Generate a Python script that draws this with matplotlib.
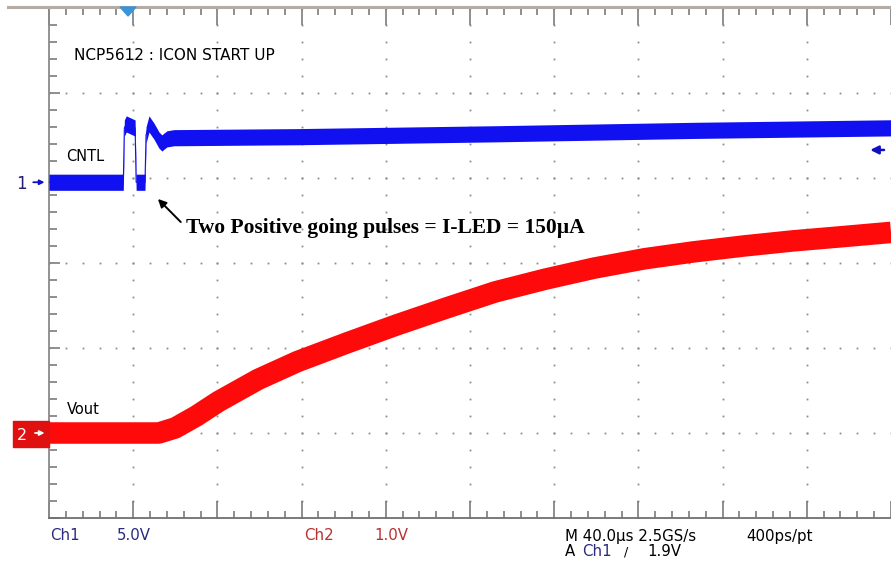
import numpy as np
import matplotlib
matplotlib.use("Agg")
import matplotlib.pyplot as plt
from matplotlib.patches import Rectangle, Polygon
from matplotlib.lines import Line2D

# scope settings
us_per_div = 40.0
ch1_volts_per_div = 5.0
ch2_volts_per_div = 1.0
ch1_offset_div = 3.95
ch2_offset_div = 1.0
trigger_t = 37.2
trigger_level = 1.9

# CNTL (ch1), time in us, volts
cntl_t = [0, 35.3, 35.8, 36.7, 40.9, 41.4, 45.6, 46.1, 47.5, 49.9, 52.2, 53.6,
          56.0, 59.3, 118, 212, 306, 400]
cntl_v = [0, 0, 3.19, 3.43, 3.19, 0, 0, 2.78, 3.43, 3.0, 2.49, 2.31,
          2.55, 2.62, 2.68, 2.85, 3.05, 3.2]

# Vout (ch2), time in us, volts
vout_t = [0, 52.2, 60, 70, 80.5, 99.3, 118, 141.6, 165, 188.7, 212, 235.8, 259,
          283, 306, 330, 353.4, 377, 400]
vout_v = [0, 0, 0.06, 0.2, 0.37, 0.63, 0.84, 1.06, 1.27, 1.47, 1.66, 1.81, 1.94,
          2.05, 2.13, 2.2, 2.26, 2.31, 2.36]

W, H = 891, 567


def fxy(x, y):
    # pixel position -> figure fraction
    return x / W, 1 - y / H


fig = plt.figure(figsize=(W / 100, H / 100), dpi=100)
fig.patch.set_facecolor("white")
ax = fig.add_axes([49 / W, 49 / H, 842 / W, 510 / H])
ax.set_xlim(0, 842 / 85)
ax.set_ylim(0, 6)

# graticule dots
dot_col = "#8c8c8c"
for gx in range(1, 10):
    ys = np.arange(0, 6.01, 0.2)
    ax.plot(np.full_like(ys, gx), ys, "s", ms=1.3, color=dot_col, mew=0, zorder=1)
for gy in range(1, 6):
    xs = np.arange(0, 10.01, 0.2)
    ax.plot(xs, np.full_like(xs, gy), "s", ms=1.3, color=dot_col, mew=0, zorder=1)

# ticks
ax.xaxis.set_ticks_position("both")
ax.set_xticks(np.arange(0, 10.01, 1))
ax.set_xticks(np.arange(0, 10.01, 0.2), minor=True)
ax.set_yticks(np.arange(0, 6.01, 1))
ax.set_yticks(np.arange(0, 6.01, 0.2), minor=True)
ax.tick_params(axis="x", which="major", direction="in", length=12, width=1.1, color="#707070",
               labelbottom=False, top=True, bottom=True)
ax.tick_params(axis="x", which="minor", direction="in", length=5, width=1.1, color="#707070",
               top=True, bottom=True)
ax.tick_params(axis="y", which="major", direction="in", length=8, width=1.1, color="#707070",
               labelleft=False, left=True, right=False)
ax.tick_params(axis="y", which="minor", direction="in", length=5.5, width=1.1, color="#707070",
               left=True, right=False)
ax.spines["right"].set_visible(False)
ax.spines["top"].set_visible(False)
ax.spines["bottom"].set_color("#707070")
ax.spines["left"].set_color("#8a8a8a")
ax.spines["bottom"].set_linewidth(1.3)
ax.spines["left"].set_linewidth(1.3)

# top border of screen
fig.add_artist(Line2D([8 / W, 1], [1 - 7 / H, 1 - 7 / H], color="#b4aca4", lw=2.2))

# traces
cx = np.array(cntl_t) / us_per_div
cy = np.array(cntl_v) / ch1_volts_per_div + ch1_offset_div
ax.plot(cx, cy, color="#1010f0", lw=0.8, zorder=3)
ax.fill_between(cx, cy - 0.095, cy + 0.095, color="#1010f0", lw=0, zorder=3)

vx = np.array(vout_t) / us_per_div
vy = np.array(vout_v) / ch2_volts_per_div + ch2_offset_div
ax.plot(vx, vy, color="#ff0a0a", lw=15.5, solid_capstyle="butt", solid_joinstyle="round",
        zorder=3)

# trigger marker at top
tx = 49 + trigger_t / us_per_div * 85
fig.add_artist(Polygon([fxy(tx - 8, 7), fxy(tx + 8, 7), fxy(tx, 16)],
                       closed=True, color="#3a95d8", zorder=10))

# trigger level arrow on right
ly = trigger_level / ch1_volts_per_div + ch1_offset_div
ax.annotate("", xy=(9.72, ly), xytext=(9.95, ly), annotation_clip=False,
            arrowprops=dict(arrowstyle="-|>", color="#1010c0", lw=1.8, mutation_scale=12))

# channel markers
sans = "DejaVu Sans"
ax.text(-0.26, ch1_offset_div - 0.02, "1", color="#20207a", fontsize=12, va="center", ha="right",
        family=sans)
ax.annotate("", xy=(-0.02, ch1_offset_div), xytext=(-0.22, ch1_offset_div), annotation_clip=False,
            arrowprops=dict(arrowstyle="-|>", color="#1010c0", lw=1.3, mutation_scale=7))
ax.add_patch(Rectangle(fxy(13, 447), 36 / W, 26 / H, color="#e01010", zorder=5,
                       transform=fig.transFigure, clip_on=False))
ax.text(-0.26, ch2_offset_div - 0.03, "2", color="white", fontsize=11.5, ha="right", va="center",
        family=sans, zorder=6)
ax.annotate("", xy=(-0.02, ch2_offset_div), xytext=(-0.2, ch2_offset_div), annotation_clip=False,
            arrowprops=dict(arrowstyle="-|>", color="white", lw=1.3, mutation_scale=7), zorder=6)

# labels on screen
fig.text(*fxy(74, 55), "NCP5612 : ICON START UP", fontsize=11, va="center", family=sans)
fig.text(*fxy(66, 157), "CNTL", fontsize=10.5, va="center", family=sans)
fig.text(*fxy(67, 409), "Vout", fontsize=10.5, va="center", family=sans)

fig.text(*fxy(186, 228), "Two Positive going pulses = I-LED = 150\u00b5A", fontsize=15.5,
         fontweight="bold", va="center", family="Liberation Serif")
ax.annotate("", xy=((157 - 49) / 85, (518 - 197) / 85), xytext=((184 - 49) / 85, (518 - 224) / 85),
            arrowprops=dict(arrowstyle="-|>", color="black", lw=1.4, mutation_scale=12))

# bottom readout
navy = "#2a2a7e"
red = "#b83030"
fs = 10.8
fig.text(*fxy(50, 536), "Ch1", color=navy, fontsize=fs, va="center", family=sans)
fig.text(*fxy(117, 536), "5.0V", color=navy, fontsize=fs, va="center", family=sans)
fig.text(*fxy(304, 536), "Ch2", color=red, fontsize=fs, va="center", family=sans)
fig.text(*fxy(374, 536), "1.0V", color=red, fontsize=fs, va="center", family=sans)
fig.text(*fxy(565, 536), "M 40.0\u00b5s 2.5GS/s", color="black", fontsize=fs, va="center", family=sans)
fig.text(*fxy(746, 536), "400ps/pt", color="black", fontsize=fs, va="center", family=sans)
fig.text(*fxy(565, 552), "A", color="black", fontsize=fs, va="center", family=sans)
fig.text(*fxy(582, 552), "Ch1", color=navy, fontsize=fs, va="center", family=sans)
fig.text(*fxy(624, 552), "/", color="black", fontsize=9, va="center", family=sans)
fig.text(*fxy(647, 552), "1.9V", color="black", fontsize=fs, va="center", family=sans)

fig.savefig("out.png", dpi=100, facecolor="white")
